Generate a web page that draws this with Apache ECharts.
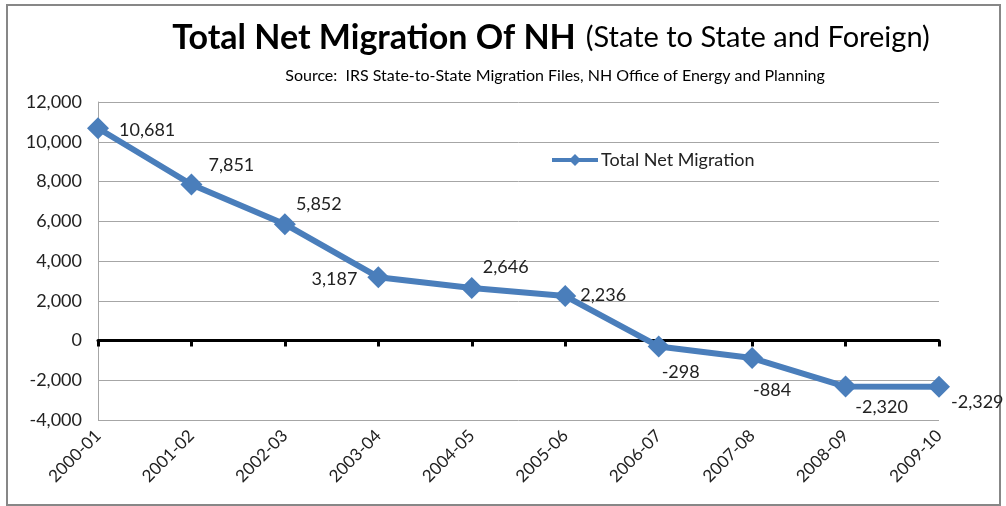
<!DOCTYPE html>
<html>
<head>
<meta charset="utf-8">
<script src="https://cdn.jsdelivr.net/npm/echarts@6/dist/echarts.min.js"></script>
<style>
  html, body { margin: 0; padding: 0; background: #fff; }
  #chart { width: 1006px; height: 506px; }
</style>
</head>
<body>
<div id="chart"></div>
<script>
const years = ['2000-01', '2001-02', '2002-03', '2003-04', '2004-05',
  '2005-06', '2006-07', '2007-08', '2008-09', '2009-10'];
const netMigration = [10681, 7851, 5852, 3187, 2646, 2236, -298, -884, -2320, -2329];
const yTicks = { min: -4000, max: 12000, interval: 2000 };

// where each data label sits relative to its point
const labelPlace = [
  { position: 'right', offset: [0, 2] },
  { position: 'right', offset: [-4, -19] },
  { position: 'right', offset: [-10, -20] },
  { position: 'left', offset: [0, 2] },
  { position: 'right', offset: [-10, -21] },
  { position: 'right', offset: [-6, -1] },
  { position: 'bottom', offset: [22, -4] },
  { position: 'bottom', offset: [20, 2] },
  { position: 'bottom', offset: [36, -9] },
  { position: 'right', offset: [-9, 15] }
];

const blue = '#4A7EBB';
const font = 'Lato, "Open Sans", sans-serif';

const chart = echarts.init(document.getElementById('chart'));

chart.setOption({
  animation: false,
  textStyle: { fontFamily: font },
  graphic: [{
    type: 'rect',
    shape: { x: 7, y: 5, width: 993, height: 500 },
    style: { fill: 'none', stroke: '#878787', lineWidth: 2 },
    silent: true
  }],
  title: [{
    text: '{b|Total Net Migration Of NH}{n|(State to State and Foreign)}',
    left: 546,
    textAlign: 'center',
    top: 16,
    textStyle: {
      rich: {
        b: { fontSize: 34, fontWeight: 'bold', color: '#000', fontFamily: font },
        n: { fontSize: 29, fontWeight: 'normal', color: '#000', fontFamily: font, padding: [0, 0, 0, 10] }
      }
    }
  }, {
    text: 'Source:  IRS State-to-State Migration Files, NH Office of Energy and Planning',
    left: 550,
    textAlign: 'center',
    top: 63,
    textStyle: { fontSize: 16, fontWeight: 'normal', color: '#000', fontFamily: font }
  }],
  legend: {
    data: [{
      name: 'Total Net Migration',
      icon: 'path://M0,4 H19 L23,0 L27,4 H46 V8 H27 L23,12 L19,8 H0 Z'
    }],
    left: 547,
    top: 146,
    itemWidth: 46,
    itemHeight: 14,
    itemGap: 2,
    textStyle: { fontSize: 18, color: '#222', fontFamily: font, padding: [0, 0, 0, -2] }
  },
  grid: { left: 98, right: 67, top: 102, bottom: 86 },
  xAxis: [{
    type: 'category',
    data: years,
    boundaryGap: false,
    axisLine: { onZero: true, lineStyle: { color: '#000', width: 3 } },
    axisTick: { show: true, length: 6, lineStyle: { color: '#000', width: 3 } },
    axisLabel: { show: false },
    splitLine: { show: false }
  }, {
    type: 'category',
    data: years,
    boundaryGap: false,
    position: 'bottom',
    axisLine: { show: false, onZero: false },
    axisTick: { show: false },
    axisLabel: {
      rotate: 45,
      margin: 13,
      fontSize: 17,
      color: '#222',
      fontFamily: font
    }
  }],
  yAxis: {
    type: 'value',
    min: yTicks.min,
    max: yTicks.max,
    interval: yTicks.interval,
    axisLine: { show: true, lineStyle: { color: '#A6A6A6', width: 1 } },
    axisTick: { show: false },
    axisLabel: {
      fontSize: 18,
      color: '#222',
      margin: 16,
      fontFamily: font,
      formatter: v => v.toLocaleString('en-US')
    },
    splitLine: { lineStyle: { color: '#A6A6A6', width: 1 } }
  },
  series: [{
    name: 'Total Net Migration',
    type: 'line',
    xAxisIndex: 0,
    data: netMigration.map((v, i) => ({
      value: v,
      label: labelPlace[i]
    })),
    symbol: 'diamond',
    symbolSize: 22,
    itemStyle: { color: blue },
    lineStyle: { color: blue, width: 6 },
    label: {
      show: true,
      fontSize: 18,
      color: '#222',
      distance: 10,
      fontFamily: font,
      formatter: p => p.value.toLocaleString('en-US')
    },
    z: 5
  }]
});
</script>
</body>
</html>
